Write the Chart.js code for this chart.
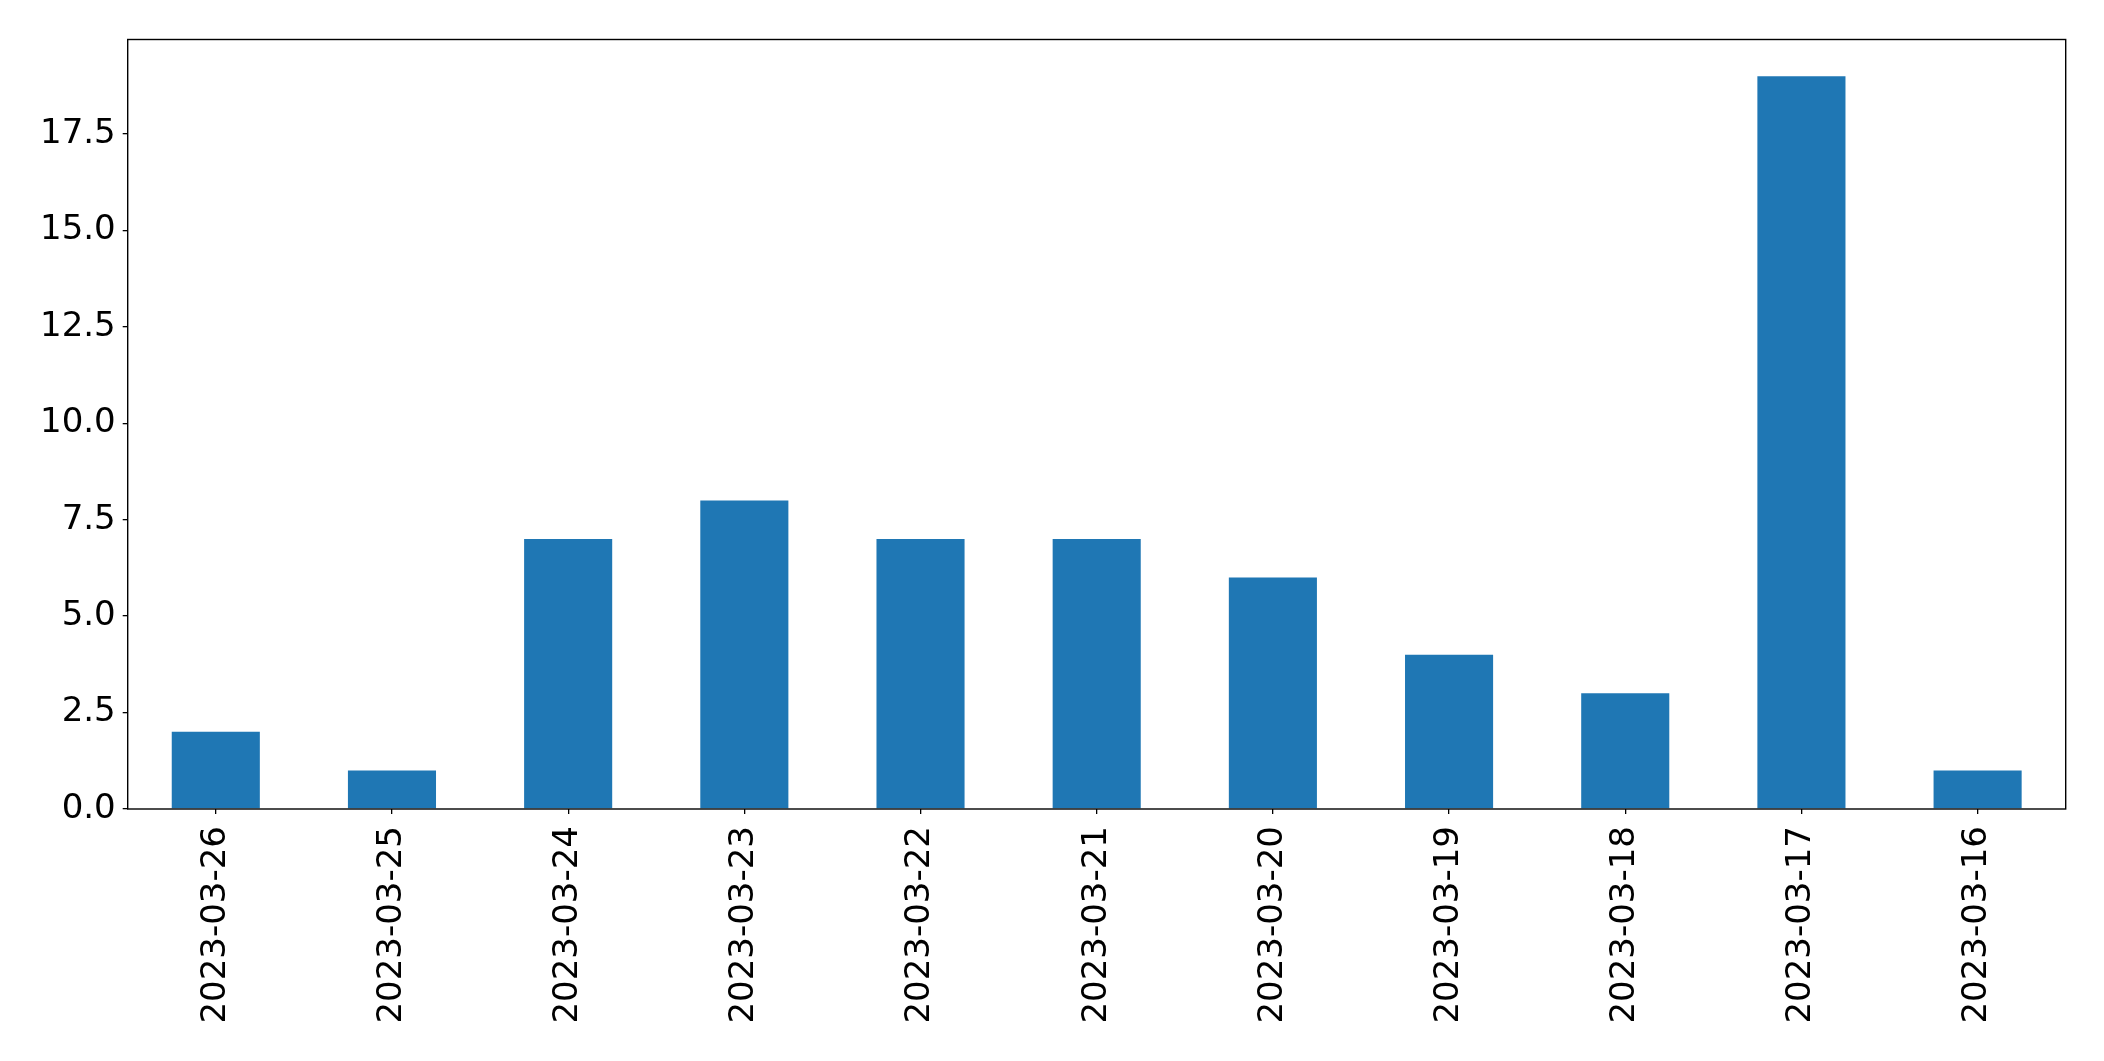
<!DOCTYPE html>
<html>
<head>
<meta charset="utf-8">
<script src="https://cdn.jsdelivr.net/npm/chart.js@4"></script>
<style>
html,body{margin:0;padding:0;background:#fff;}
#wrap{width:2104px;height:1061px;position:relative;}
</style>
</head>
<body>
<div id="wrap"><canvas id="c" width="2104" height="1061"></canvas></div>
<script>
const categories = ["2023-03-26","2023-03-25","2023-03-24","2023-03-23","2023-03-22","2023-03-21","2023-03-20","2023-03-19","2023-03-18","2023-03-17","2023-03-16"];
const counts = [2,1,7,8,7,7,6,4,3,19,1];
const yTickValues = [0,2.5,5,7.5,10,12.5,15,17.5];

const frame = {
  id:'frame',
  afterDraw(chart){
    const a = chart.chartArea, ctx = chart.ctx;
    ctx.save();
    ctx.strokeStyle = '#000';
    ctx.lineWidth = 1.4;
    ctx.strokeRect(a.left, a.top, a.right - a.left, a.bottom - a.top);
    ctx.restore();
  }
};

new Chart(document.getElementById('c'), {
  type:'bar',
  data:{labels:categories, datasets:[{data:counts, backgroundColor:'#1f77b4', borderWidth:0, categoryPercentage:1.0, barPercentage:0.5}]},
  options:{
    responsive:false, animation:false,
    layout:{padding:{top:39.5, right:38.3, left:0, bottom:0}},
    plugins:{legend:{display:false}, tooltip:{enabled:false}},
    scales:{
      x:{
        offset:true,
        grid:{display:true, offset:false, drawOnChartArea:false, drawTicks:true, tickLength:5, color:'#000', lineWidth:1.3},
        border:{display:false},
        ticks:{color:'#000', font:{family:'DejaVu Sans', size:34}, minRotation:90, maxRotation:90, padding:12, autoSkip:false},
        afterFit(s){ s.height = 252; }
      },
      y:{
        min:0, max:19.95,
        grid:{display:true, drawOnChartArea:false, drawTicks:true, tickLength:5, color:'#000', lineWidth:1.3},
        border:{display:false},
        afterBuildTicks(s){ s.ticks = yTickValues.map(v=>({value:v})); },
        ticks:{color:'#000', font:{family:'DejaVu Sans', size:34}, padding:7, callback:(v)=>Number(v).toFixed(1)},
        afterFit(s){ s.width = 127.7; }
      }
    }
  },
  plugins:[frame]
});
</script>
</body>
</html>
